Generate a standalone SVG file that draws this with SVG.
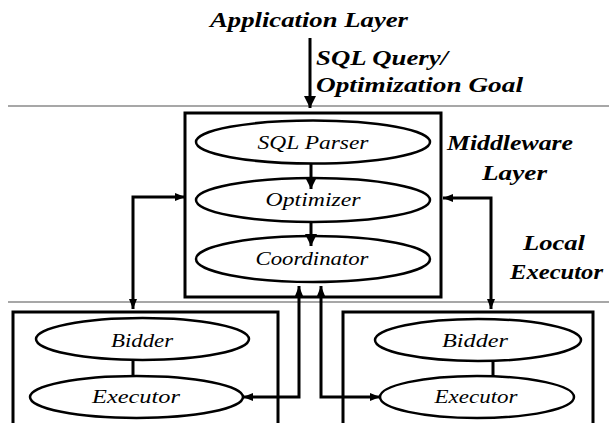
<svg xmlns="http://www.w3.org/2000/svg" width="609" height="423" viewBox="0 0 609 423">
  <style>
    .sep { stroke: #8a8a8a; stroke-width: 1.5; fill: none; }
    .box { fill: #ffffff; stroke: #000000; stroke-width: 3; }
    .node { fill: #ffffff; stroke: #000000; stroke-width: 2.5; }
    .lbl { font-family: "Liberation Serif", "Times New Roman", serif; font-style: italic; font-size: 19px; fill: #000000; }
    .layer { font-family: "Liberation Serif", "Times New Roman", serif; font-style: italic; font-weight: bold; font-size: 20px; fill: #000000; }
    .wire { stroke: #000000; stroke-width: 3; fill: none; }
  </style>
  <defs>
    <marker id="arrow" viewBox="0 0 10 8" refX="10" refY="4" markerWidth="10" markerHeight="8" markerUnits="userSpaceOnUse" orient="auto-start-reverse">
      <path d="M0,0 L10,4 L0,8 Z" fill="#000000"/>
    </marker>
    <marker id="arrowBig" viewBox="0 0 12 12" refX="12" refY="6" markerWidth="12" markerHeight="12" markerUnits="userSpaceOnUse" orient="auto">
      <path d="M0,0 L12,6 L0,12 Z" fill="#000000"/>
    </marker>
  </defs>

  <rect width="609" height="423" fill="#ffffff"/>

  <!-- layer separators -->
  <line class="sep" x1="8" y1="106" x2="609" y2="106"/>
  <line class="sep" x1="8" y1="302" x2="609" y2="302"/>

  <!-- layer captions -->
  <text class="layer" x="210" y="27" textLength="198" lengthAdjust="spacingAndGlyphs">Application Layer</text>
  <text class="layer" x="316" y="65" textLength="132" lengthAdjust="spacingAndGlyphs">SQL Query/</text>
  <text class="layer" x="316" y="92" textLength="207" lengthAdjust="spacingAndGlyphs">Optimization  Goal</text>
  <text class="layer" x="447" y="150" textLength="126" lengthAdjust="spacingAndGlyphs">Middleware</text>
  <text class="layer" x="482" y="180" textLength="65" lengthAdjust="spacingAndGlyphs">Layer</text>
  <text class="layer" x="523" y="250" textLength="62" lengthAdjust="spacingAndGlyphs">Local</text>
  <text class="layer" x="510" y="279" textLength="93" lengthAdjust="spacingAndGlyphs">Executor</text>

  <!-- middleware box -->
  <g id="middleware">
    <rect class="box" x="185" y="113" width="256" height="184"/>
  </g>

  <!-- local executor boxes -->
  <g id="executor-left">
    <rect class="box" x="13" y="312" width="265" height="120"/>
  </g>
  <g id="executor-right">
    <rect class="box" x="343" y="312" width="250" height="120"/>
  </g>

  <!-- connectors -->
  <g id="connectors">
    <line class="wire" x1="310" y1="38" x2="310" y2="108" marker-end="url(#arrowBig)"/>
    <line class="wire" x1="311" y1="163" x2="311" y2="189" marker-end="url(#arrowBig)"/>
    <line class="wire" x1="311" y1="221" x2="311" y2="246" marker-end="url(#arrowBig)"/>
    <polyline class="wire" points="133,309 133,197 185,197" marker-start="url(#arrow)" marker-end="url(#arrow)"/>
    <polyline class="wire" points="491,309 491,198 443,198" marker-start="url(#arrow)" marker-end="url(#arrow)"/>
    <polyline class="wire" points="299,286 299,397 243,397" marker-start="url(#arrow)" marker-end="url(#arrow)"/>
    <polyline class="wire" points="321,286 321,397 380,397" marker-start="url(#arrow)" marker-end="url(#arrow)"/>
    <line class="wire" x1="133" y1="359" x2="133" y2="377"/>
    <line class="wire" x1="493" y1="361" x2="493" y2="377"/>
  </g>

  <!-- middleware nodes -->
  <g id="sql-parser">
    <ellipse class="node" cx="313" cy="142" rx="117" ry="21.5"/>
    <text class="lbl" x="313" y="149" text-anchor="middle" textLength="111" lengthAdjust="spacingAndGlyphs">SQL Parser</text>
  </g>
  <g id="optimizer">
    <ellipse class="node" cx="313" cy="200" rx="117" ry="22" fill-opacity="0"/>
    <text class="lbl" x="313" y="206" text-anchor="middle" textLength="95" lengthAdjust="spacingAndGlyphs">Optimizer</text>
  </g>
  <g id="coordinator">
    <ellipse class="node" cx="313" cy="259" rx="117" ry="23" fill-opacity="0"/>
    <text class="lbl" x="312" y="265" text-anchor="middle" textLength="113" lengthAdjust="spacingAndGlyphs">Coordinator</text>
  </g>

  <!-- left executor nodes -->
  <g id="bidder-left">
    <ellipse class="node" cx="142.5" cy="339" rx="106.5" ry="21"/>
    <text class="lbl" x="142" y="347" text-anchor="middle" textLength="62" lengthAdjust="spacingAndGlyphs">Bidder</text>
  </g>
  <g id="executor-node-left">
    <ellipse class="node" cx="136.5" cy="397" rx="106.5" ry="21"/>
    <text class="lbl" x="136" y="403" text-anchor="middle" textLength="88" lengthAdjust="spacingAndGlyphs">Executor</text>
  </g>

  <!-- right executor nodes -->
  <g id="bidder-right">
    <ellipse class="node" cx="478" cy="340" rx="103" ry="21"/>
    <text class="lbl" x="475" y="347" text-anchor="middle" textLength="66" lengthAdjust="spacingAndGlyphs">Bidder</text>
  </g>
  <g id="executor-node-right">
    <ellipse class="node" cx="477" cy="397" rx="97" ry="21"/>
    <text class="lbl" x="476" y="403" text-anchor="middle" textLength="83" lengthAdjust="spacingAndGlyphs">Executor</text>
  </g>
</svg>
